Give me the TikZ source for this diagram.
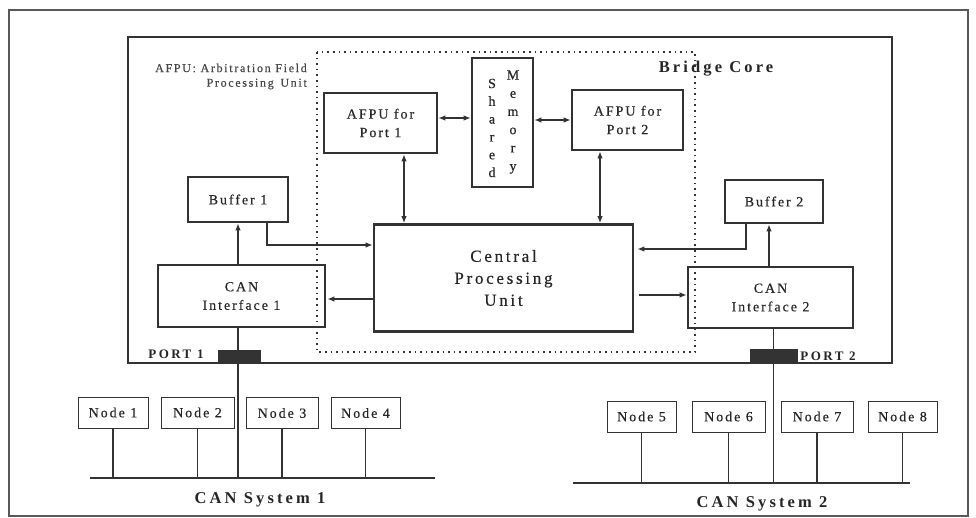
\documentclass[tikz,border=0pt]{standalone}
\usepackage{fontspec}
\setmainfont{Liberation Serif}
\newfontfamily\spfont[LetterSpace=14,FakeBold=0.4]{Liberation Serif}
\newfontfamily\spcfont[LetterSpace=16,FakeBold=0.4]{Liberation Serif}
\newfontfamily\spbfont[LetterSpace=19]{Liberation Serif}
\newfontfamily\memfont[FakeBold=0.4]{Liberation Serif}
\usetikzlibrary{arrows.meta}
\definecolor{ink}{HTML}{333333}
\definecolor{txt}{HTML}{262626}
\begin{document}
\begin{tikzpicture}[x=1pt,y=-1pt,
  every node/.style={text=txt, inner sep=0pt},
  box/.style={draw=ink, line width=2.8pt, align=center, font=\spfont\fontsize{14}{18.5}\selectfont},
  nodebox/.style={draw=ink, line width=1pt, minimum width=70pt, minimum height=31pt, font=\spfont\fontsize{14}{16}\selectfont},
  conn/.style={draw=ink, line width=1.1pt},
  arr/.style={conn, -{Latex[length=7pt,width=5.5pt]}},
  darr/.style={conn, {Latex[length=7pt,width=5.5pt]}-{Latex[length=7pt,width=5.5pt]}},
  bus/.style={draw=ink, line width=2.3pt},
  title/.style={font=\spbfont\bfseries\fontsize{16.5}{18}\selectfont},
  portbox/.style={fill=ink, draw=ink}
]
\useasboundingbox (0,0) rectangle (976,518);
\fill[white] (0,0) rectangle (976,518);
% outer frame
\draw[draw=gray!70!black, line width=2.6pt] (9,10) rectangle (968,516);
% bridge frame
\draw[draw=ink, line width=2.8pt] (128,37) rectangle (892,363);
% dotted core
\draw[draw=ink, line width=1.6pt, dash pattern=on 1.6pt off 4pt] (317,52) rectangle (695,352);

% labels
\node[anchor=east, font=\spfont\fontsize{12}{14}\selectfont, text=txt!85] (noteA) at (307,68) {AFPU: Arbitration Field};
\node[anchor=east, font=\spfont\fontsize{12}{14}\selectfont, text=txt!85] (noteB) at (307,84) {Processing\, Unit};
\node[title] (core) at (716,69) {Bridge Core};

% boxes
\node[box, minimum width=113pt, minimum height=60pt] (afpu1) at (380.5,123) {AFPU for\\Port 1};
\node[box, minimum width=61pt, minimum height=129pt] (mem) at (502.5,122.5) {};
\node[align=center, font=\memfont\fontsize{14}{17.8}\selectfont] (memS) at (492,128) {S\\h\\a\\r\\e\\d};
\node[align=center, font=\memfont\fontsize{14}{18.2}\selectfont] (memM) at (513,122) {M\\e\\m\\o\\r\\y};
\node[box, minimum width=111pt, minimum height=60pt] (afpu2) at (627.5,120) {AFPU for\\Port 2};
\node[box, minimum width=100pt, minimum height=45pt] (buf1) at (238,199.5) {Buffer 1};
\node[box, minimum width=167pt, minimum height=62pt] (can1) at (241.5,296) {CAN\\Interface 1};
\node[box, minimum width=259pt, minimum height=107pt, font=\spcfont\fontsize{17}{22}\selectfont] (cpu) at (503.5,278) {Central\\Processing\\Unit};
\node[box, minimum width=98pt, minimum height=43pt] (buf2) at (774,201.5) {Buffer 2};
\node[box, minimum width=165pt, minimum height=61pt] (can2) at (770.5,297.5) {CAN\\Interface 2};

% internal connectors
\draw[darr] ([yshift=5pt]afpu1.east) -- ([yshift=5pt]afpu1.east -| mem.west);
\draw[darr] (mem.east |- afpu2.west) -- (afpu2.west);
\draw[darr] ([xshift=23.5pt]afpu1.south) -- ([xshift=23.5pt]afpu1.south |- cpu.north);
\draw[darr] ([xshift=-27.5pt]afpu2.south) -- ([xshift=-27.5pt]afpu2.south |- cpu.north);
\draw[arr] (buf1.south |- can1.north) -- (buf1.south);
\draw[arr] ([xshift=-5pt]buf2.south |- can2.north) -- ([xshift=-5pt]buf2.south);
\draw[arr] ([xshift=29pt]buf1.south) |- ([yshift=33pt]cpu.west);
\draw[arr, shorten >=3pt] ([xshift=-28pt]buf2.south) |- ([yshift=29pt]cpu.east);
\draw[arr, shorten >=1pt] ([yshift=-21pt]cpu.west) -- ([yshift=-21pt]cpu.west -| can1.east);
\draw[arr, shorten <=5pt] ([yshift=-17pt]cpu.east) -- ([yshift=-17pt]cpu.east -| can2.west);

% buses
\coordinate (b1L) at (90,478);
\coordinate (b1R) at (435,478);
\coordinate (b2L) at (573,483);
\coordinate (b2R) at (910,483);
\draw[bus] (b1L) -- (b1R);
\draw[bus] (b2L) -- (b2R);
\draw[conn] ([xshift=-3.5pt]can1.south) -- ([xshift=-3.5pt]can1.south |- b1L);
\draw[conn] ([xshift=3pt]can2.south) -- ([xshift=3pt]can2.south |- b2L);

% ports
\path[portbox] (218,350) rectangle (260,363);
\path[portbox] (750,349) rectangle (797,363);
\node[font=\spbfont\bfseries\fontsize{13}{15}\selectfont] (p1) at (176,354) {PORT 1};
\node[font=\spbfont\bfseries\fontsize{13}{15}\selectfont] (p2) at (828,356) {PORT 2};

% CAN nodes
\node[nodebox, minimum width=70pt] (n1) at (113,412.5) {Node 1};
\node[nodebox, minimum width=73pt] (n2) at (197.5,412.5) {Node 2};
\node[nodebox, minimum width=72pt] (n3) at (282,413) {Node 3};
\node[nodebox, minimum width=69pt] (n4) at (365.5,413) {Node 4};
\node[nodebox, minimum width=69pt] (n5) at (641.5,416.5) {Node 5};
\node[nodebox, minimum width=73pt] (n6) at (728.5,416.5) {Node 6};
\node[nodebox, minimum width=72pt] (n7) at (817,416.5) {Node 7};
\node[nodebox, minimum width=69pt] (n8) at (902.5,416.5) {Node 8};
\foreach \n in {n1,n2,n3,n4} \draw[conn] (\n.south) -- (\n.south |- b1L);
\foreach \n in {n5,n6,n7,n8} \draw[conn] (\n.south) -- (\n.south |- b2L);

\node[title] (sys1) at (260,500) {CAN System 1};
\node[title] (sys2) at (762,504) {CAN System 2};
\end{tikzpicture}
\end{document}
